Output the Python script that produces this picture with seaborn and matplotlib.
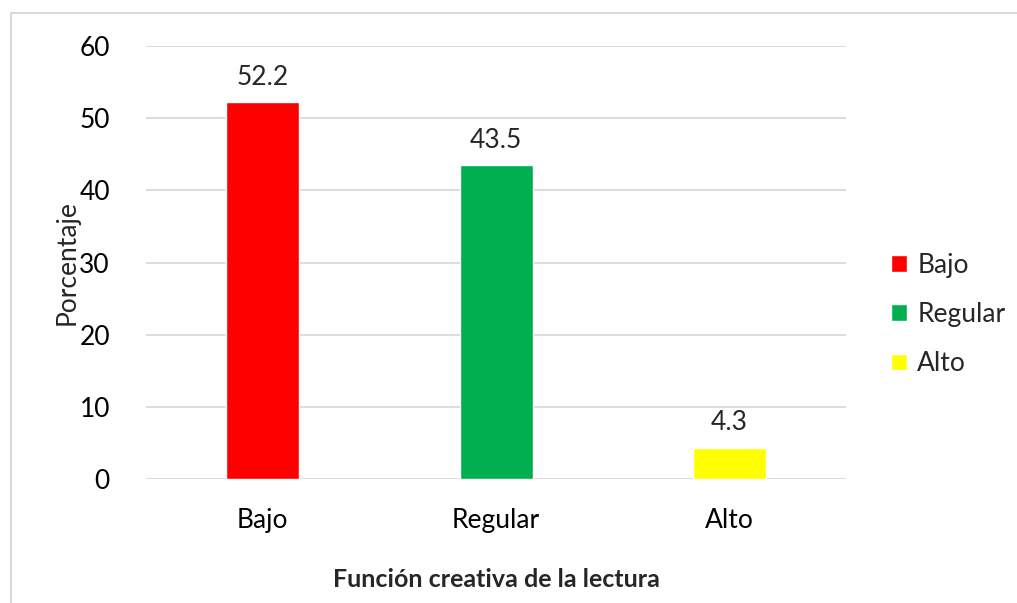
import pandas as pd
import seaborn as sns
import matplotlib.pyplot as plt
from matplotlib.patches import Rectangle

# Datos
categorias = ['Bajo', 'Regular', 'Alto']
porcentajes = [52.2, 43.5, 4.3]
colores = ['#ff0000', '#00b050', '#ffff00']

df = pd.DataFrame({'nivel': categorias, 'pct': porcentajes})

sns.set_theme(style="white")
plt.rcParams['font.family'] = ['Lato', 'DejaVu Sans']

fig = plt.figure(figsize=(10.17, 6.03), dpi=100)
ax = fig.add_axes([0.1436, 0.2056, 0.6883, 0.7181])

sns.barplot(data=df, x='nivel', y='pct', hue='nivel', palette=colores,
            width=0.313, legend=True, ax=ax, saturation=1)

ax.set_ylim(0, 60)
ax.set_yticks(range(0, 61, 10))
ax.yaxis.grid(True, color='#d9d9d9', linewidth=1.3)
ax.set_axisbelow(True)
for s in ax.spines.values():
    s.set_visible(False)
ax.tick_params(axis='both', length=0, labelsize=19, colors='black')
ax.tick_params(axis='y', pad=26)
ax.tick_params(axis='x', pad=21)

# etiquetas de valor
for c in ax.containers:
    ax.bar_label(c, fmt='%.1f', padding=9, fontsize=19)

ax.set_xlabel('Función creativa de la lectura', fontsize=18, fontweight='bold', labelpad=25)
ax.set_ylabel('Porcentaje', fontsize=19, labelpad=0)

ax.legend(loc='center left', bbox_to_anchor=(1.03, 0.38), frameon=False,
          fontsize=19, handlelength=0.6, handleheight=0.6, handletextpad=0.4,
          labelspacing=0.92)

# borde del gráfico
fig.patches.append(Rectangle((0.011, -0.01), 1.1, 0.989, transform=fig.transFigure,
                             fill=False, edgecolor='#d9d9d9', linewidth=1.5))

plt.savefig('out.png', dpi=100)
